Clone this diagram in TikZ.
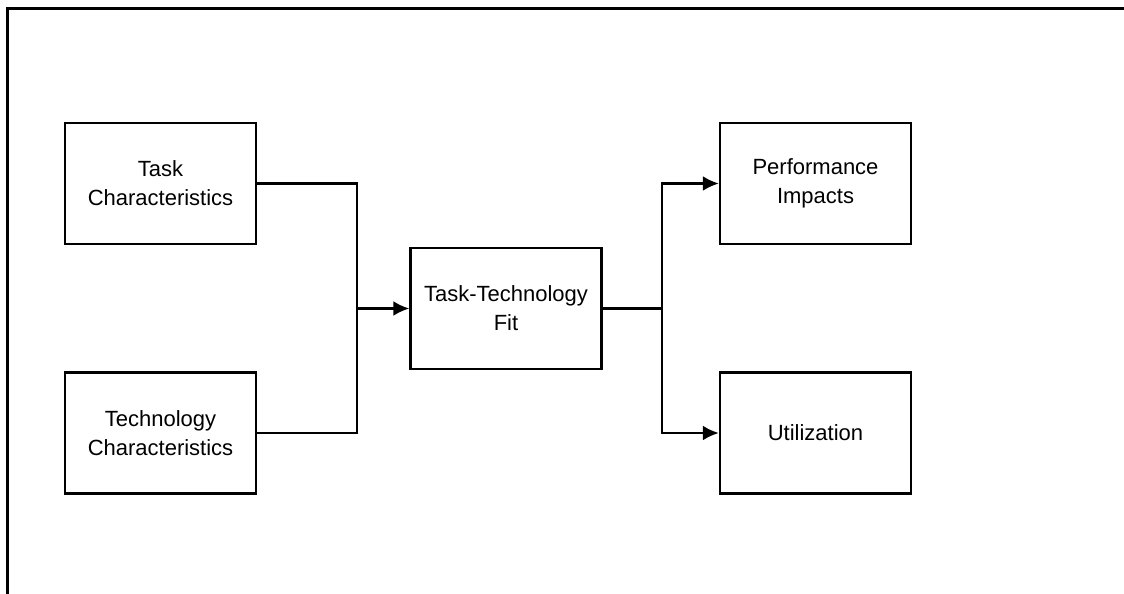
\documentclass[tikz,border=0pt]{standalone}
\usepackage{fontspec}
\setmainfont{Liberation Sans}
\usetikzlibrary{arrows.meta,positioning}

\tikzset{
  block/.style={draw, line width=2.4pt, minimum width=191pt, minimum height=121pt,
    align=center, inner sep=0pt, font=\fontsize{22}{29}\selectfont},
  link/.style={line width=2.4pt},
}

\begin{document}
\begin{tikzpicture}[>={Latex[length=16pt,width=15pt]}, node distance=249.5pt]
  \useasboundingbox (0,0) rectangle (1124pt,-594pt);
  % frame
  \draw[line width=3pt] (1124pt,-9pt) -- (7pt,-9pt) -- (7pt,-594pt);

  \node [block] at (160.5pt,-183.5pt)           (task) {Task\\Characteristics};
  \node [block] [below of=task]                 (tech) {Technology\\Characteristics};
  \node [block] at (506pt,-308.5pt)             (ttf)  {Task-Technology\\Fit};
  \node [block] [right of=task, node distance=655pt] (perf) {Performance\\Impacts};
  \node [block] [right of=tech, node distance=655pt] (util) {Utilization};

  \coordinate (joinL) at (357pt,-308.5pt);
  \coordinate (joinR) at (662pt,-308.5pt);

  \draw[link] (task.east) -| (joinL);
  \draw[link] (tech.east) -| (joinL);
  \draw[link,->] (joinL) -- (ttf.west);
  \draw[link] (ttf.east) -- (joinR);
  \draw[link,->] (joinR) |- (perf.west);
  \draw[link,->] (joinR) |- (util.west);
\end{tikzpicture}
\end{document}
